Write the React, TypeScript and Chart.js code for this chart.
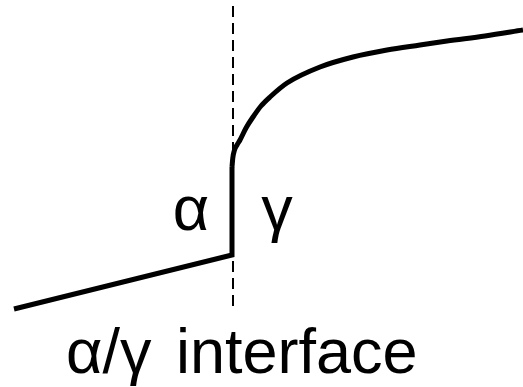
import React, { useEffect, useRef } from "react";
import { Chart, registerables } from "chart.js";

Chart.register(...registerables);

// Composition profile across the α/γ interface (x: distance, y: concentration)
const alphaBranch = [
  { x: 14, y: 78 },
  { x: 232, y: 132 },
  { x: 232, y: 220 },
];

const gammaBranch = [
  { x: 232, y: 220 },
  { x: 232.8, y: 229 },
  { x: 234.5, y: 237 },
  { x: 237, y: 242 },
  { x: 240, y: 247 },
  { x: 246, y: 259 },
  { x: 253, y: 270 },
  { x: 261, y: 281 },
  { x: 270, y: 290 },
  { x: 287, y: 304 },
  { x: 320, y: 320 },
  { x: 353, y: 330 },
  { x: 387, y: 337 },
  { x: 420, y: 342 },
  { x: 447, y: 346 },
  { x: 485, y: 351 },
  { x: 523, y: 357 },
];

const interfaceLine = [
  { x: 233, y: 381 },
  { x: 233, y: 80 },
];

// Phase labels and the caption under the interface
const labelTexts = ["α", "γ", "α/γ", "interface"];
const labelX = [191, 277, 66, 176];
const labelY = [157, 157, 14, 14];
const labelAlign: CanvasTextAlign[] = ["center", "center", "left", "left"];

const textPlugin = {
  id: "phaseLabels",
  afterDatasetsDraw(chart: Chart) {
    const { ctx, scales } = chart;
    const xs = scales.x;
    const ys = scales.y;
    ctx.save();
    ctx.fillStyle = "#000";
    ctx.font = '63px "Liberation Sans", Arial, sans-serif';
    ctx.textBaseline = "alphabetic";
    labelTexts.forEach((t, i) => {
      ctx.textAlign = labelAlign[i];
      ctx.fillText(t, xs.getPixelForValue(labelX[i]), ys.getPixelForValue(labelY[i]));
    });
    ctx.restore();
  },
};

export default function App() {
  const canvasRef = useRef<HTMLCanvasElement | null>(null);

  useEffect(() => {
    if (!canvasRef.current) return;
    const chart = new Chart(canvasRef.current, {
      type: "line",
      data: {
        datasets: [
          {
            data: interfaceLine,
            borderColor: "#000",
            borderWidth: 2,
            borderDash: [11, 6],
            pointRadius: 0,
            tension: 0,
          },
          {
            data: alphaBranch,
            borderColor: "#000",
            borderWidth: 5,
            borderJoinStyle: "miter",
            pointRadius: 0,
            tension: 0,
          },
          {
            data: gammaBranch,
            borderColor: "#000",
            borderWidth: 5,
            borderJoinStyle: "round",
            pointRadius: 0,
            cubicInterpolationMode: "monotone",
          },
        ],
      },
      options: {
        animation: false,
        responsive: false,
        maintainAspectRatio: false,
        layout: { padding: 0 },
        plugins: {
          legend: { display: false },
          tooltip: { enabled: false },
        },
        clip: false,
        scales: {
          x: { type: "linear", min: 0, max: 523, display: false },
          y: { type: "linear", min: 0, max: 387, display: false },
        },
      },
      plugins: [textPlugin],
    });
    return () => chart.destroy();
  }, []);

  return (
    <div style={{ position: "absolute", left: 0, top: 0, width: 523, height: 387, background: "#fff" }}>
      <canvas ref={canvasRef} width={523} height={387} />
    </div>
  );
}
